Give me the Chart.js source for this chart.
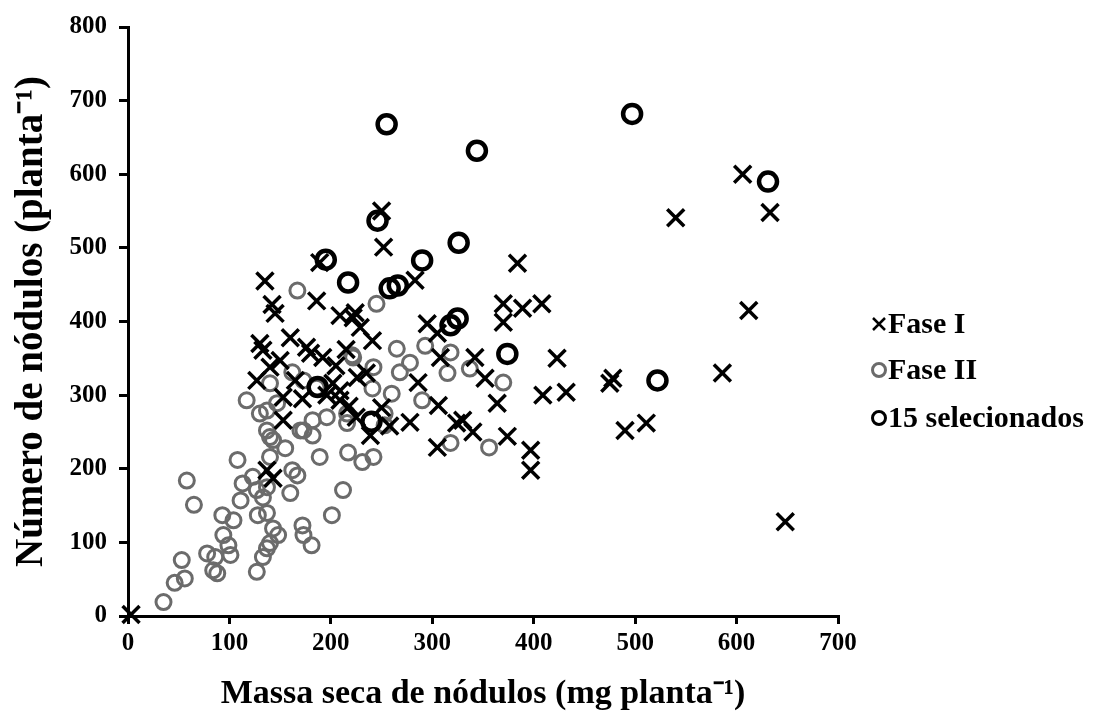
<!DOCTYPE html>
<html>
<head>
<meta charset="utf-8">
<script src="https://cdn.jsdelivr.net/npm/chart.js@4/dist/chart.umd.min.js"></script>
<style>
body { margin: 0; background: #fff; }
#wrap { width: 1099px; height: 715px; }
</style>
</head>
<body>
<div id="wrap"><canvas id="nodChart" width="1099" height="715"></canvas></div>
<script>
// values: [massa seca (mg), numero de nodulos]
const faseI = [
[3,2],[135,455],[142,423],[145,411],[186,428],[189,480],[250,550],[252,501],
[606,600],[633,548],[540,541],[384,479],[283,456],[209,408],[222,405],[224,412],
[229,392],[295,397],[305,384],[241,374],[370,424],[389,418],[408,424],[370,399],
[612,415],[342,351],[423,350],[352,323],[409,300],[432,304],[478,323],[475,316],
[586,330],[364,289],[490,252],[511,262],[340,250],[374,244],[397,225],[397,198],
[648,128],[330,266],[308,351],[286,317],[306,286],[324,262],[305,229],[278,263],
[239,245],[226,324],[209,306],[130,370],[133,361],[160,378],[176,365],[192,351],
[180,357],[127,320],[140,338],[150,347],[153,297],[153,266],[202,316],[209,293],
[137,198],[143,187],[215,362],[205,340],[235,330],[218,285],[196,300],[172,295],
[165,320],[250,283],[258,258],[225,270]
];

const faseII = [
[167,442],[245,424],[222,351],[265,363],[278,344],[293,367],[318,358],[315,330],
[242,338],[268,331],[337,336],[370,317],[241,309],[260,302],[290,293],[356,229],
[318,235],[253,275],[253,259],[216,275],[216,262],[217,222],[231,209],[242,216],
[212,171],[221,354],[117,293],[140,316],[162,331],[173,320],[137,279],[147,289],
[186,310],[137,252],[143,239],[173,252],[182,266],[196,270],[108,212],[58,184],
[65,151],[93,137],[104,130],[94,110],[99,96],[101,83],[78,85],[86,80],
[84,62],[88,58],[53,76],[56,51],[46,45],[35,19],[111,157],[113,180],
[123,189],[127,171],[133,161],[137,175],[140,216],[155,228],[162,198],[167,191],
[160,167],[128,137],[137,140],[143,119],[148,110],[140,99],[137,92],[133,80],
[127,60],[172,123],[173,110],[181,96],[189,216],[201,137],[170,252],[182,245],
[140,243],[130,275]
];

const selecionados = [
[497,682],[255,668],[344,632],[631,590],[246,537],[326,507],[195,484],[290,483],
[217,453],[258,445],[266,449],[325,404],[318,395],[374,356],[522,320],[240,264],
[187,311]
];

const seriesNames = ['Fase I', 'Fase II', '15 selecionados'];
const xTicks = [0, 100, 200, 300, 400, 500, 600, 700];
const yTicks = [0, 100, 200, 300, 400, 500, 600, 700, 800];

const toPts = arr => arr.map(p => ({x: p[0], y: p[1]}));
const serif = '"Liberation Serif", "Times New Roman", serif';

// legend drawn by hand, Excel style on the right
const sideLegend = {
id: 'sideLegend',
afterDraw(chart) {
const c = chart.ctx;
const rows = [324, 370, 418];
const mx = 879;
c.save();
c.lineCap = 'butt';
// X for Fase I
c.strokeStyle = '#000';
c.lineWidth = 2.5;
c.beginPath();
c.moveTo(mx - 6, rows[0] - 6); c.lineTo(mx + 6, rows[0] + 6);
c.moveTo(mx + 6, rows[0] - 6); c.lineTo(mx - 6, rows[0] + 6);
c.stroke();
// grey ring
c.strokeStyle = '#6b6b6b';
c.lineWidth = 3;
c.beginPath(); c.arc(mx, rows[1], 6.5, 0, Math.PI * 2); c.stroke();
// black ring
c.strokeStyle = '#000';
c.beginPath(); c.arc(mx, rows[2], 6.5, 0, Math.PI * 2); c.stroke();

c.fillStyle = '#000';
c.font = 'bold 30px ' + serif;
c.textAlign = 'left';
c.textBaseline = 'middle';
seriesNames.forEach((n, i) => c.fillText(n, mx + 9, rows[i] + 1));
c.restore();
}
};

const ctx = document.getElementById('nodChart');

new Chart(ctx, {
type: 'scatter',
data: {
datasets: [{
label: seriesNames[0],
data: toPts(faseI),
pointStyle: 'crossRot',
pointRadius: 12,
pointBorderWidth: 3.5,
borderColor: '#000',
backgroundColor: '#000',
clip: false,
order: 1
}, {
label: seriesNames[1],
data: toPts(faseII),
pointStyle: 'circle',
pointRadius: 7.5,
pointBorderWidth: 3,
borderColor: '#6b6b6b',
backgroundColor: 'rgba(0,0,0,0)',
clip: false,
order: 2
}, {
label: seriesNames[2],
data: toPts(selecionados),
pointStyle: 'circle',
pointRadius: 9,
pointBorderWidth: 4.5,
borderColor: '#000',
backgroundColor: 'rgba(0,0,0,0)',
clip: false,
order: 0
}]
},
options: {
responsive: false,
animation: false,
layout: { padding: { left: 0, top: 26, right: 261, bottom: 0 } },
plugins: {
legend: { display: false },
tooltip: { enabled: false }
},
scales: {
x: {
type: 'linear',
min: 0,
max: 700,
afterBuildTicks: axis => { axis.ticks = xTicks.map(v => ({value: v})); },
afterFit: axis => { axis.height = 99; },
border: { color: '#000', width: 3 },
grid: { drawOnChartArea: false, color: '#000', lineWidth: 3, tickLength: 8 },
ticks: { color: '#000', padding: 5, maxRotation: 0, font: { family: serif, size: 25, weight: 'bold' } },
title: {
display: true,
text: 'Massa seca de nódulos (mg planta⁻¹)',
color: '#000',
padding: { top: 0, bottom: 0 },
font: { family: serif, size: 34, weight: 'bold' }
}
},
y: {
type: 'linear',
min: 0,
max: 800,
afterBuildTicks: axis => { axis.ticks = yTicks.map(v => ({value: v})); },
afterFit: axis => { axis.width = 128; },
border: { color: '#000', width: 3 },
grid: { drawOnChartArea: false, color: '#000', lineWidth: 3, tickLength: 9 },
ticks: { color: '#000', padding: 12, font: { family: serif, size: 25, weight: 'bold' } },
title: {
display: true,
text: 'Número de nódulos (planta⁻¹)',
color: '#000',
padding: { top: 9, bottom: 0 },
font: { family: serif, size: 39, weight: 'bold' }
}
}
}
},
plugins: [sideLegend]
});
</script>
</body>
</html>
